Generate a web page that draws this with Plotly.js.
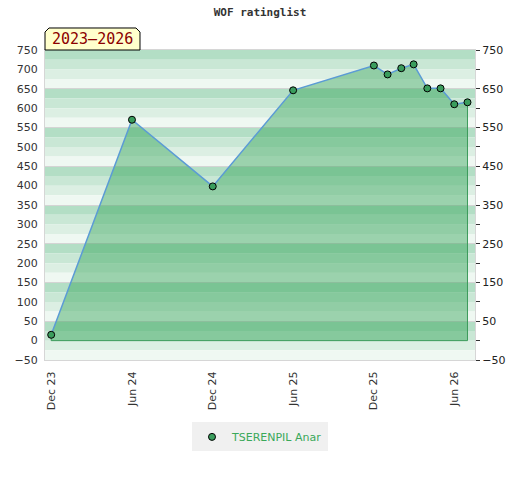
<!DOCTYPE html>
<html>
<head>
<meta charset="utf-8">
<script src="https://cdn.plot.ly/plotly-3.0.1.min.js"></script>
<style>html,body{margin:0;padding:0;background:#fff;}#chart{width:520px;height:480px;}</style>
</head>
<body>
<div id="chart"></div>
<script>
const chartTitle = 'WOF ratinglist';
const periodLabel = '2023–2026';
const playerName = 'TSERENPIL Anar';
const dates = ['2023-12-01','2024-06-01','2024-12-01','2025-06-01','2025-12-01','2026-01-01','2026-02-01','2026-03-01','2026-04-01','2026-05-01','2026-06-01','2026-07-01'];
const ratings = [15, 570, 398, 646, 710, 687, 703, 713, 651, 651, 610, 615];
const yMin = -50, yMax = 750;
const stripeColors = ['#b3dec5','#c9e7d5','#dcefe3','#eff8f2'];

const shapes = [];
for (let top = yMax, k = 0; top > yMin; top -= 25, k++) {
  shapes.push({type:'rect', xref:'paper', yref:'y', x0:0, x1:1, y0:top-25, y1:top,
    fillcolor: stripeColors[k % 4], line:{width:0}, layer:'below'});
}
// period label box with cut corners
shapes.push({type:'path', xref:'paper', yref:'paper',
  path:'M 0 1 L 0 1.058 L 0.0093 1.071 L 0.2116 1.071 L 0.2209 1.058 L 0.2209 1 Z',
  fillcolor:'#ffffcc', line:{color:'#000', width:1}, layer:'above'});

const n = dates.length;
const traces = [
  {x: dates, y: ratings, type:'scatter', mode:'lines', fill:'tozeroy',
   fillcolor:'rgba(54,164,89,0.45)', line:{color:'#5b9bd5', width:1.5}, showlegend:false, hoverinfo:'skip'},
  {x: [dates[n-1], dates[n-1], dates[0], dates[0]], y: [ratings[n-1], 0, 0, ratings[0]],
   type:'scatter', mode:'lines', line:{color:'#3d9b5c', width:1}, showlegend:false, hoverinfo:'skip'},
  {x: dates, y: ratings, type:'scatter', mode:'markers', name: playerName,
   marker:{size:7, color:'#3a9d5d', line:{color:'#000', width:1}}},
  {x: [dates[0]], y: [ratings[0]], yaxis:'y2', type:'scatter', mode:'markers',
   marker:{opacity:0}, showlegend:false, hoverinfo:'skip'}
];

const axisFont = {family:'DejaVu Sans', size:11, color:'#333'};
const layout = {
  width:520, height:480,
  margin:{l:45, r:45, t:50, b:120},
  paper_bgcolor:'#fff', plot_bgcolor:'rgba(0,0,0,0)',
  title:{text: chartTitle, x:0.5, xanchor:'center', y:0.975, yanchor:'middle',
    font:{family:'DejaVu Sans Mono', size:11, color:'#333', weight:'bold'}},
  xaxis:{type:'date', range:['2023-11-17','2026-07-18'], tick0:'2023-12-01', dtick:'M6',
    tickformat:'%b %y', tickangle:-90, ticks:'outside', ticklen:6, tickcolor:'rgba(0,0,0,0)',
    showgrid:false, zeroline:false, showline:true, mirror:true, linecolor:'#d6d6d6', linewidth:1,
    tickfont:axisFont},
  yaxis:{range:[yMin, yMax], tick0:yMin, dtick:50, ticks:'outside', ticklen:4,
    tickcolor:'rgba(0,0,0,0)', showgrid:false, zeroline:false, showline:true, mirror:true,
    linecolor:'#d6d6d6', linewidth:1, tickfont:axisFont},
  yaxis2:{range:[yMin, yMax], overlaying:'y', side:'right', tick0:yMin, dtick:100,
    ticks:'outside', ticklen:4, tickcolor:'#333', showgrid:true, gridcolor:'#d4d4d4', gridwidth:1,
    zeroline:false, showline:false, tickfont:{family:'DejaVu Sans', size:11, color:'#222'},
    minor:{dtick:50, tick0:yMin, ticks:'outside', ticklen:4, tickcolor:'#333', showgrid:false}},
  showlegend:true,
  legend:{orientation:'h', x:0.5, xanchor:'center', y:-0.248, yanchor:'middle',
    itemwidth:30, bgcolor:'#f0f0f0', font:{family:'DejaVu Sans', size:11, color:'#3aa85a'}},
  shapes: shapes,
  annotations:[{xref:'paper', yref:'paper', x:0.1105, y:1.0355, xanchor:'center', yanchor:'middle',
    text: periodLabel, showarrow:false, font:{family:'DejaVu Sans Mono', size:15, color:'#8b0000'}}]
};
Plotly.newPlot('chart', traces, layout, {displayModeBar:false, staticPlot:true});
</script>
</body>
</html>
